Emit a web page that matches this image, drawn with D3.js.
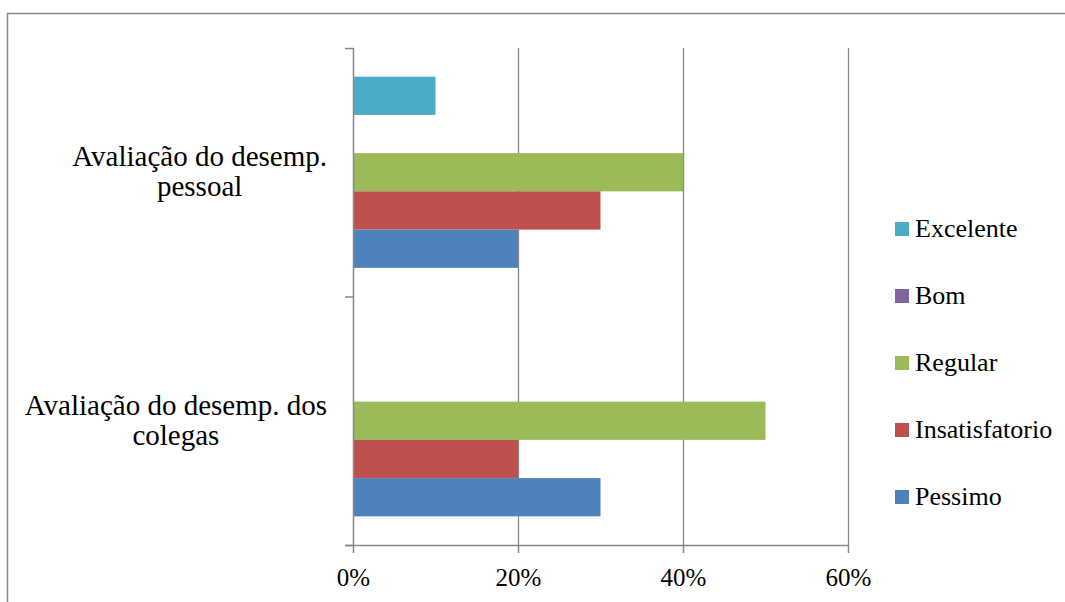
<!DOCTYPE html>
<html>
<head>
<meta charset="utf-8">
<script src="https://cdn.jsdelivr.net/npm/d3@7"></script>
</head>
<body style="margin:0">
<svg id="chart" width="1065" height="602"></svg>
<script>
// Survey categories (top to bottom)
const categories = ["Avaliação do desemp. pessoal", "Avaliação do desemp. dos colegas"];
// Wrapped label lines for each category
const categoryLines = [["Avaliação do desemp.", "pessoal"], ["Avaliação do desemp. dos", "colegas"]];
// Rating series, in legend order (top to bottom)
const series = ["Excelente", "Bom", "Regular", "Insatisfatorio", "Pessimo"];
const colors = ["#4BACC6", "#8064A2", "#9BBB59", "#C0504D", "#4F81BD"];
// Share of answers (%) per series, one entry per category
const pessoal = { Excelente: 10, Bom: 0, Regular: 40, Insatisfatorio: 30, Pessimo: 20 };
const colegas = { Excelente: 0, Bom: 0, Regular: 50, Insatisfatorio: 20, Pessimo: 30 };
const values = [pessoal, colegas];
const xTicks = [0, 20, 40, 60];

const FONT = '"Liberation Serif"';
const svg = d3.select("#chart");
const plot = { left: 353, right: 848, top: 48, bottom: 545 };
const grey = "#888888";

// Outer chart frame
svg.append("rect")
  .attr("x", 7.5).attr("y", 13.5).attr("width", 1070).attr("height", 600)
  .attr("fill", "none").attr("stroke", grey).attr("stroke-width", 1.5);

const x = d3.scaleLinear().domain([0, 60]).range([plot.left, plot.right]);
const y = d3.scaleBand().domain(categories).range([plot.top, plot.bottom]).padding(0);
const ySub = d3.scaleBand().domain(series).range([0, y.bandwidth()])
  .paddingInner(0).paddingOuter(0.75);
const color = d3.scaleOrdinal().domain(series).range(colors);

// Vertical gridlines
svg.append("g")
  .selectAll("line")
  .data(xTicks.filter(d => d > 0))
  .join("line")
  .attr("x1", d => Math.round(x(d)) + 0.5).attr("x2", d => Math.round(x(d)) + 0.5)
  .attr("y1", plot.top).attr("y2", plot.bottom)
  .attr("stroke", grey).attr("stroke-width", 1.3);

// Bars
const groups = svg.append("g")
  .selectAll("g")
  .data(categories)
  .join("g")
  .attr("transform", d => `translate(0,${y(d)})`);

groups.selectAll("rect")
  .data((c, i) => series.map(s => ({ s, v: values[i][s] })))
  .join("rect")
  .attr("x", x(0))
  .attr("y", d => ySub(d.s))
  .attr("width", d => x(d.v) - x(0))
  .attr("height", ySub.bandwidth())
  .attr("fill", d => color(d.s));

// X axis (bottom)
const xAxis = d3.axisBottom(x).tickValues(xTicks).tickFormat(d => d + "%")
  .tickSizeInner(8).tickSizeOuter(0).tickPadding(15);
const gx = svg.append("g").attr("transform", `translate(0,${plot.bottom})`).call(xAxis);
gx.attr("font-family", null).attr("font-size", null);
gx.select(".domain").attr("stroke", grey).attr("stroke-width", 1.5)
  .attr("d", `M${plot.left - 8},0.5H${plot.right}`);
gx.selectAll(".tick line").attr("stroke", grey).attr("stroke-width", 1.5);
gx.selectAll(".tick text").attr("fill", "#000")
  .style("font-family", FONT).style("font-size", "25px");

// Y axis (left) — category boundaries as ticks
const yEdges = [plot.top, y(categories[1]), plot.bottom];
const gy = svg.append("g");
gy.append("line").attr("x1", plot.left + 0.5).attr("x2", plot.left + 0.5)
  .attr("y1", plot.top).attr("y2", plot.bottom).attr("stroke", grey).attr("stroke-width", 1.5);
gy.selectAll("line.tk").data(yEdges).join("line").attr("class", "tk")
  .attr("x1", plot.left - 8).attr("x2", plot.left + 0.5)
  .attr("y1", d => d + 0.5).attr("y2", d => d + 0.5)
  .attr("stroke", grey).attr("stroke-width", 1.5);

// Category labels: each wrapped block centred, widest line ending near the axis
const labelRight = 327;
const lineH = 30;
categories.forEach((c, i) => {
  const g = svg.append("g");
  const lines = categoryLines[i];
  const texts = g.selectAll("text").data(lines).join("text")
    .style("font-family", FONT).style("font-size", "29px")
    .attr("fill", "#000").text(d => d);
  const maxW = d3.max(texts.nodes(), n => n.getComputedTextLength());
  const cx = labelRight - maxW / 2;
  const mid = y(c) + y.bandwidth() / 2;
  const firstBaseline = mid + 9 - (lines.length - 1) * lineH / 2;
  texts.attr("x", cx).attr("text-anchor", "middle")
    .attr("y", (d, j) => firstBaseline + j * lineH);
});

// Legend
const legend = svg.append("g").attr("transform", "translate(895,222)");
const li = legend.selectAll("g").data(series).join("g")
  .attr("transform", (d, i) => `translate(0,${i * 67})`);
li.append("rect").attr("width", 14).attr("height", 14).attr("fill", d => color(d));
li.append("text").attr("x", 20).attr("y", 15)
  .style("font-family", FONT).style("font-size", "26px")
  .attr("fill", "#000").text(d => d);
</script>
</body>
</html>
